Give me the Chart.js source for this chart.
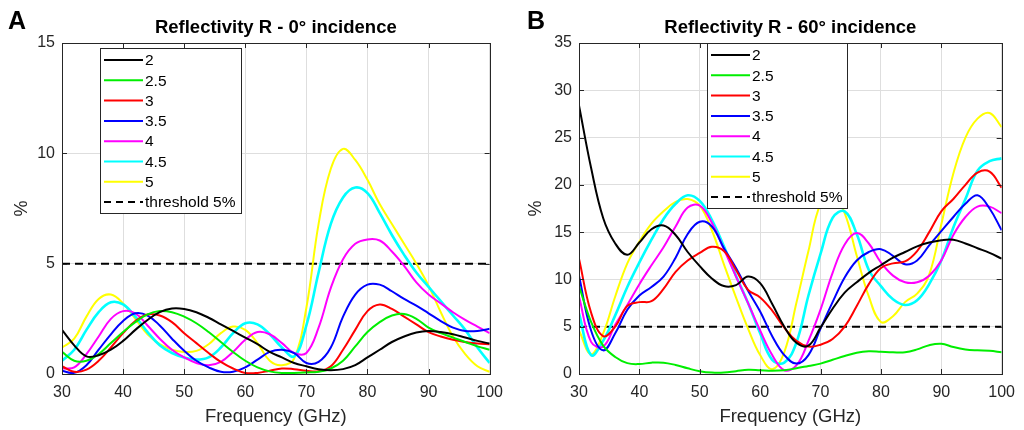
<!DOCTYPE html>
<html>
<head>
<meta charset="utf-8">
<script src="https://cdn.jsdelivr.net/npm/chart.js@4.4.1/dist/chart.umd.min.js"></script>
<style>
  body { margin: 0; background: #fff; width: 1024px; height: 430px; overflow: hidden; position: relative; }
  canvas { position: absolute; top: 0; }
  #chartA { left: 0; }
  #chartB { left: 512px; }
  .panel-label { position: absolute; top: 6px; line-height: 1; font: bold 25px 'Liberation Sans', Arial, sans-serif; color: #000; }
</style>
</head>
<body>
<canvas id="chartA" width="512" height="430"></canvas>
<canvas id="chartB" width="512" height="430"></canvas>
<div class="panel-label" style="left:8px">A</div>
<div class="panel-label" style="left:527px">B</div>
<script>
// frequency samples (GHz)
const freq = [30, 32, 34, 36, 38, 40, 42, 44, 46, 48, 50, 52,
              54, 56, 58, 60, 62, 64, 66, 68, 70, 72, 74, 76,
              78, 80, 82, 84, 86, 88, 90, 92, 94, 96, 98, 100];

const seriesNames = ['2', '2.5', '3', '3.5', '4', '4.5', '5'];
const thresholdLabel = 'threshold 5%';
const threshold = 5;

const xTicks = [30, 40, 50, 60, 70, 80, 90, 100];
const yTicksA = [0, 5, 10, 15];
const yTicksB = [0, 5, 10, 15, 20, 25, 30, 35];

// A - 0 deg incidence
const a2  = [2.0, 1.3, 0.8, 0.85, 1.1, 1.5, 2.0, 2.45, 2.8, 2.97, 2.95, 2.8,
             2.55, 2.25, 1.95, 1.65, 1.35, 1.0, 0.75, 0.5, 0.35, 0.22, 0.17, 0.22,
             0.4, 0.75, 1.1, 1.45, 1.7, 1.88, 1.95, 1.9, 1.8, 1.65, 1.5, 1.38];
const a25 = [1.0, 0.6, 0.6, 0.9, 1.4, 1.9, 2.35, 2.7, 2.85, 2.8, 2.6, 2.3,
             1.9, 1.45, 1.0, 0.6, 0.3, 0.12, 0.05, 0.05, 0.07, 0.1, 0.25, 0.6,
             1.25, 1.9, 2.35, 2.65, 2.72, 2.5, 2.1, 1.85, 1.65, 1.45, 1.25, 1.1];
const a3  = [0.35, 0.1, 0.2, 0.6, 1.2, 1.85, 2.4, 2.7, 2.65, 2.35, 1.85, 1.4,
             0.95, 0.55, 0.25, 0.05, 0.05, 0.15, 0.25, 0.22, 0.15, 0.12, 0.35, 1.1,
             2.0, 2.85, 3.15, 2.95, 2.6, 2.25, 1.9, 1.7, 1.55, 1.45, 1.38, 1.35];
const a35 = [0.15, 0.05, 0.4, 1.1, 1.8, 2.4, 2.75, 2.65, 2.2, 1.6, 1.05, 0.6,
             0.3, 0.1, 0.1, 0.3, 0.65, 1.0, 1.1, 0.95, 0.5, 0.55, 1.2, 2.6,
             3.6, 4.05, 4.05, 3.75, 3.4, 3.1, 2.75, 2.4, 2.1, 1.95, 1.95, 2.05];
const a4  = [0.25, 0.3, 0.9, 1.7, 2.5, 2.85, 2.75, 2.2, 1.6, 1.1, 0.75, 0.5,
             0.4, 0.55, 1.0, 1.55, 1.9, 1.8, 1.4, 0.95, 0.95, 2.1, 3.9, 5.2,
             5.9, 6.1, 6.05, 5.55, 4.9, 4.15, 3.6, 3.2, 2.8, 2.45, 2.15, 1.85];
const a45 = [0.6, 1.1, 2.0, 2.8, 3.25, 3.15, 2.6, 1.9, 1.3, 0.95, 0.75, 0.65,
             0.75, 1.2, 1.85, 2.3, 2.25, 1.8, 1.2, 0.8, 2.2, 4.6, 6.8, 8.0,
             8.45, 8.2, 7.3, 6.3, 5.4, 4.6, 3.95, 3.3, 2.65, 2.0, 1.2, 0.5];
const a5  = [1.2, 1.6, 2.6, 3.4, 3.6, 3.2, 2.5, 1.8, 1.35, 1.1, 1.0, 1.05,
             1.35, 1.85, 2.15, 2.0, 1.4, 0.6, 0.4, 0.7, 3.0, 6.8, 9.3, 10.2,
             9.7, 8.8, 7.7, 6.8, 5.9, 5.0, 4.0, 2.8, 1.7, 0.9, 0.35, 0.1];

// B - 60 deg incidence
const b2  = [28.4, 21.8, 16.5, 13.8, 12.6, 13.9, 15.3, 15.7, 14.7, 12.9, 11.4, 10.1,
             9.3, 9.4, 10.3, 9.6, 7.4, 5.0, 3.3, 3.0, 4.9, 6.9, 8.6, 9.7,
             10.7, 11.5, 12.3, 12.9, 13.5, 13.9, 14.15, 14.2, 13.8, 13.3, 12.8, 12.2];
const b25 = [9.3, 5.5, 3.0, 1.8, 1.15, 1.05, 1.2, 1.2, 0.95, 0.6, 0.3, 0.15,
             0.15, 0.3, 0.45, 0.4, 0.35, 0.4, 0.6, 0.85, 1.1, 1.5, 1.9, 2.25,
             2.4, 2.35, 2.3, 2.3, 2.6, 3.05, 3.2, 2.85, 2.6, 2.5, 2.45, 2.3];
const b3  = [12.2, 6.5, 4.0, 5.0, 7.2, 7.6, 7.7, 9.0, 10.8, 12.0, 12.8, 13.45,
             13.0, 11.0, 8.9, 8.1, 6.7, 4.9, 3.5, 2.9, 3.1, 3.7, 5.0, 7.2,
             9.5, 11.2, 11.7, 11.9, 13.0, 15.0, 17.2, 18.5, 20.0, 21.3, 21.4, 19.7];
const b35 = [10.4, 4.6, 2.5, 4.3, 6.8, 8.3, 9.2, 10.3, 12.3, 14.8, 16.1, 15.6,
             13.3, 11.2, 8.8, 6.6, 4.0, 2.0, 1.1, 2.0, 4.8, 7.6, 10.2, 12.0,
             12.9, 13.2, 12.5, 11.6, 12.0, 13.6, 15.1, 16.6, 18.0, 18.9, 17.5, 15.2];
const b4  = [8.2, 3.4, 2.9, 5.2, 7.3, 9.5, 11.5, 13.4, 15.6, 17.6, 17.8, 16.0,
             13.2, 10.3, 7.5, 4.6, 2.0, 0.4, 0.9, 3.5, 6.8, 10.7, 13.7, 14.9,
             13.8, 11.8, 10.4, 9.7, 9.7, 10.4, 12.0, 14.7, 16.6, 17.7, 17.7, 17.0];
const b45 = [6.4, 2.0, 3.5, 6.2, 9.2, 11.8, 14.2, 16.4, 18.0, 18.9, 18.3, 16.3,
             13.5, 10.4, 7.5, 4.3, 1.5, 1.2, 3.3, 8.3, 12.7, 16.5, 17.2, 14.8,
             11.0, 9.3, 7.9, 7.3, 7.8, 9.5, 12.0, 15.5, 18.5, 21.5, 22.5, 22.8];
const b5  = [4.6, 2.1, 4.3, 8.2, 11.7, 14.0, 15.9, 17.2, 18.2, 18.5, 17.8, 15.2,
             11.6, 8.1, 4.8, 2.0, 0.5, 2.3, 7.5, 13.0, 18.0, 19.0, 17.0, 12.5,
             8.2, 5.5, 6.1, 7.6, 8.5, 10.5, 15.8, 21.2, 25.0, 27.0, 27.6, 26.1];

const colors = ['#000000', '#00ee00', '#ff0000', '#0000ff', '#ff00ff', '#00ffff', '#ffff00'];
const widths = [2, 2, 2, 2, 2, 2.6, 2];
const FONT = "'Liberation Sans', Arial, sans-serif";
const INK = '#262626';

function makeDatasets(seriesList) {
    const sets = seriesList.map((vals, k) => ({
        label: seriesNames[k],
        data: vals.map((v, i) => ({ x: freq[i], y: v })),
        borderColor: colors[k],
        borderWidth: widths[k],
        pointRadius: 0,
        tension: 0.4,
        fill: false
    }));
    sets.push({
        label: thresholdLabel,
        data: [{ x: freq[0], y: threshold }, { x: freq[freq.length - 1], y: threshold }],
        borderColor: '#000',
        borderWidth: 2,
        borderDash: [8, 5],
        pointRadius: 0,
        fill: false
    });
    return sets;
}

// MATLAB style box, inward ticks, title and inset legend
const matlabBox = {
    id: 'matlabBox',
    afterDraw(chart, args, opts) {
        const ctx = chart.ctx;
        const a = chart.chartArea;
        const xs = chart.scales.x, ys = chart.scales.y;
        ctx.save();

        ctx.strokeStyle = INK;
        ctx.lineWidth = 1;
        ctx.beginPath();
        xs.ticks.forEach(t => {
            const px = Math.round(xs.getPixelForValue(t.value)) + 0.5;
            ctx.moveTo(px, a.bottom); ctx.lineTo(px, a.bottom - 5);
            ctx.moveTo(px, a.top); ctx.lineTo(px, a.top + 5);
        });
        ys.ticks.forEach(t => {
            const py = Math.round(ys.getPixelForValue(t.value)) + 0.5;
            ctx.moveTo(a.left, py); ctx.lineTo(a.left + 5, py);
            ctx.moveTo(a.right, py); ctx.lineTo(a.right - 5, py);
        });
        ctx.stroke();
        ctx.strokeRect(Math.round(a.left) + 0.5, Math.round(a.top) + 0.5,
                       Math.round(a.right - a.left), Math.round(a.bottom - a.top));

        // title
        ctx.fillStyle = '#000';
        ctx.font = 'bold 18.5px ' + FONT;
        ctx.textAlign = 'center';
        ctx.textBaseline = 'middle';
        ctx.fillText(opts.title, (a.left + a.right) / 2, 28);

        // legend
        const L = opts.legend;
        ctx.fillStyle = '#fff';
        ctx.fillRect(L.x, L.y, L.w, L.h);
        ctx.strokeStyle = INK;
        ctx.strokeRect(L.x + 0.5, L.y + 0.5, L.w, L.h);
        ctx.font = '15.5px ' + FONT;
        ctx.textAlign = 'left';
        chart.data.datasets.forEach((ds, i) => {
            const y = L.row0 + i * L.step;
            ctx.strokeStyle = ds.borderColor;
            ctx.lineWidth = 2;
            ctx.setLineDash(ds.borderDash ? [7, 5] : []);
            ctx.beginPath();
            ctx.moveTo(L.x + 4, y);
            ctx.lineTo(L.x + 43, y);
            ctx.stroke();
            ctx.setLineDash([]);
            ctx.fillStyle = '#000';
            ctx.fillText(ds.label, L.x + 45, y + 1);
        });
        ctx.restore();
    }
};

function buildChart(id, seriesList, yMax, yTicks, cfg) {
    const ctx = document.getElementById(id).getContext('2d');
    return new Chart(ctx, {
        type: 'line',
        data: { datasets: makeDatasets(seriesList) },
        plugins: [matlabBox],
        options: {
            responsive: false,
            animation: false,
            layout: { padding: { left: 0, right: cfg.padRight, top: 43, bottom: 0 } },
            plugins: {
                legend: { display: false },
                tooltip: { enabled: false },
                matlabBox: { title: cfg.title, legend: cfg.legend }
            },
            scales: {
                x: {
                    type: 'linear',
                    min: xTicks[0],
                    max: xTicks[xTicks.length - 1],
                    afterBuildTicks: s => { s.ticks = xTicks.map(v => ({ value: v })); },
                    afterFit: s => { s.height = 56; },
                    ticks: { font: { family: FONT, size: 16 }, color: INK, padding: 9 },
                    grid: { color: '#dedede', drawTicks: false },
                    border: { display: false },
                    title: {
                        display: true,
                        text: 'Frequency (GHz)',
                        font: { family: FONT, size: 18.5 },
                        color: INK,
                        padding: { top: 0, bottom: 2 }
                    }
                },
                y: {
                    min: 0,
                    max: yMax,
                    afterBuildTicks: s => { s.ticks = yTicks.map(v => ({ value: v })); },
                    afterFit: s => { s.width = cfg.yWidth; },
                    ticks: { font: { family: FONT, size: 16 }, color: INK, padding: 7 },
                    grid: { color: '#dedede', drawTicks: false },
                    border: { display: false },
                    title: {
                        display: true,
                        text: '%',
                        font: { family: FONT, size: 18 },
                        color: INK,
                        padding: { top: cfg.yTitlePad, bottom: 0 }
                    }
                }
            }
        }
    });
}

buildChart('chartA', [a2, a25, a3, a35, a4, a45, a5], 15, yTicksA, {
    title: 'Reflectivity R - 0° incidence',
    padRight: 18,
    yWidth: 62,
    yTitlePad: 11,
    legend: { x: 100, y: 48, w: 141, h: 165, row0: 60, step: 20.3 }
});

buildChart('chartB', [b2, b25, b3, b35, b4, b45, b5], 35, yTicksB, {
    title: 'Reflectivity R - 60° incidence',
    padRight: 13,
    yWidth: 67,
    yTitlePad: 13,
    legend: { x: 195, y: 43, w: 140, h: 165, row0: 55, step: 20.3 }
});
</script>
</body>
</html>
